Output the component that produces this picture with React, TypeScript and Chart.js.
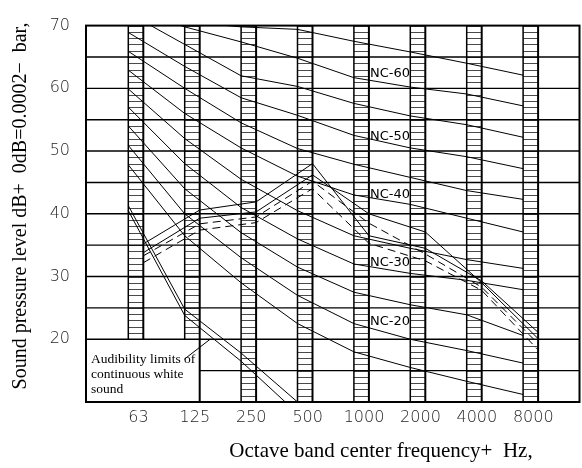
import React, { useEffect, useRef } from 'react';
import { Chart, registerables } from 'chart.js';

Chart.register(...registerables);

// ---------- data ----------
const frequencies = ['63', '125', '250', '500', '1000', '2000', '4000', '8000'];
const yTickValues = [20, 30, 40, 50, 60, 70];

const nc15 = [47.8, 36.5, 29.0, 22.5, 18.0, 15.5, 13.3, 11.2];
const nc20 = [50.9, 40.0, 33.0, 27.0, 22.5, 20.0, 18.2, 16.2];
const nc25 = [54.0, 44.0, 37.0, 31.5, 27.5, 25.5, 23.9, 20.6];
const nc30 = [57.0, 48.0, 41.0, 36.0, 32.0, 30.5, 29.4, 27.9];
const nc35 = [59.9, 52.0, 45.5, 40.5, 36.5, 34.5, 32.7, 31.3];
const nc40 = [62.9, 56.0, 50.5, 46.0, 43.0, 41.5, 39.3, 37.1];
const nc45 = [65.9, 60.0, 54.5, 50.4, 47.9, 45.8, 43.7, 42.3];
const nc50 = [68.9, 63.5, 58.5, 55.7, 52.5, 50.5, 49.1, 47.2];
const nc55 = [72.0, 67.0, 62.0, 60.3, 57.6, 55.6, 54.2, 52.2];
const nc60 = [72.5, 69.8, 67.4, 64.8, 61.7, 60.2, 59.1, 57.2];
const nc65 = [74.0, 70.6, 69.8, 69.4, 67.5, 65.8, 64.0, 62.1];

const ncLabels = ['NC-60', 'NC-50', 'NC-40', 'NC-30', 'NC-20'];
const ncLabelLevels = [62.3, 52.3, 43.0, 32.2, 22.8];

// audibility limits of continuous white sound (63..500 Hz)
const audibilityA = [41.3, 24.8, 17.8, 10.0];
const audibilityB = [40.5, 23.8, 16.5, 8.2];

// measured spectra
const spectrumSolid1 = [35.2, 40.6, 41.9, 48.0, 36.5, 34.5, 29.3, 21.1];
const spectrumSolid2 = [33.8, 39.3, 40.3, 46.2, 40.0, 37.1, 29.0, 20.1];
const spectrumDash1 = [32.2, 37.4, 38.6, 44.0, 35.3, 32.5, 27.8, 18.3];
const spectrumDash2 = [33.3, 38.4, 39.5, 45.2, 38.5, 33.6, 28.3, 19.3];

const boxText = ['Audibility limits of', 'continuous white', 'sound'];
const xTitle = 'Octave band center frequency+  Hz,';
const yTitle = 'Sound pressure level dB+  0dB=0.0002\u2212  bar,';

// ---------- layout constants ----------
const Y_MIN = 10;
const Y_MAX = 70;
const BOX_TOP = 20;
const X_MIN = -0.75;
const X_MAX = 8.0;
const BAND_W = 0.266;
const LABEL_SHIFT = 0.18;

const toPts = (arr: number[]) => arr.map((v, i) => ({ x: i, y: v }));

const backgroundPlugin = {
  id: 'ncBackground',
  beforeDatasetsDraw(chart: any) {
    const { ctx, chartArea: a, scales } = chart;
    const xs = scales.xnc;
    const y = scales.y;
    const line = (x1: number, y1: number, x2: number, y2: number) => {
      ctx.beginPath();
      ctx.moveTo(x1, y1);
      ctx.lineTo(x2, y2);
      ctx.stroke();
    };
    ctx.save();
    ctx.fillStyle = '#fff';
    ctx.fillRect(a.left, a.top, a.right - a.left, a.bottom - a.top);
    const boxRight = xs.getPixelForValue(1 + BAND_W);

    frequencies.forEach((_, i) => {
      const xl = xs.getPixelForValue(i);
      const xr = xs.getPixelForValue(i + BAND_W);
      const low = i < 2 ? BOX_TOP : Y_MIN;
      ctx.strokeStyle = '#4a4a4a';
      ctx.lineWidth = 1;
      for (let lv = low; lv <= Y_MAX; lv++) {
        const py = Math.round(y.getPixelForValue(lv)) + 0.5;
        line(xl, py, xr, py);
      }
      ctx.strokeStyle = '#000';
      ctx.lineWidth = 1.5;
      line(xl, a.top, xl, y.getPixelForValue(low));
      ctx.lineWidth = 2;
      line(xr, a.top, xr, y.getPixelForValue(i === 1 ? Y_MIN : low));
    });

    ctx.strokeStyle = '#000';
    ctx.lineWidth = 1.4;
    for (let lv = 15; lv < Y_MAX; lv += 5) {
      const py = y.getPixelForValue(lv);
      line(lv < BOX_TOP ? boxRight : a.left, py, a.right, py);
    }
    ctx.lineWidth = 2;
    ctx.strokeRect(a.left, a.top, a.right - a.left, a.bottom - a.top);
    ctx.restore();
  },
  afterDatasetsDraw(chart: any) {
    const { ctx, chartArea: a, scales } = chart;
    const xs = scales.xnc;
    const y = scales.y;
    ctx.save();
    ctx.fillStyle = '#000';
    ctx.font = '13px "DejaVu Sans"';
    ctx.textAlign = 'left';
    ctx.textBaseline = 'middle';
    const lx = xs.getPixelForValue(4 + BAND_W) + 1;
    ncLabels.forEach((t, k) => {
      ctx.fillText(t, lx, y.getPixelForValue(ncLabelLevels[k]));
    });

    ctx.font = '13.5px "Liberation Serif"';
    const y20 = y.getPixelForValue(BOX_TOP);
    boxText.forEach((t, k) => {
      ctx.fillText(t, a.left + 5, y20 + 20 + k * 15);
    });
    const w = ctx.measureText(boxText[0]).width;
    ctx.strokeStyle = '#000';
    ctx.lineWidth = 1;
    ctx.beginPath();
    ctx.moveTo(a.left + 5 + w - 11, y20 + 20);
    ctx.lineTo(xs.getPixelForValue(1.45), y20);
    ctx.stroke();
    ctx.restore();
  },
  afterDraw(chart: any) {
    const { ctx } = chart;
    ctx.save();
    ctx.fillStyle = '#000';
    ctx.textAlign = 'center';
    ctx.textBaseline = 'middle';
    ctx.font = '21px "Liberation Serif"';
    ctx.fillText(xTitle, 381, 451);
    ctx.font = '20px "Liberation Serif"';
    ctx.translate(21, 206);
    ctx.rotate(-Math.PI / 2);
    ctx.fillText(yTitle, 0, 0);
    ctx.restore();
  },
};

export default function App() {
  const ref = useRef<HTMLCanvasElement | null>(null);
  useEffect(() => {
    if (!ref.current) return;
    const ncSets = [nc15, nc20, nc25, nc30, nc35, nc40, nc45, nc50, nc55, nc60, nc65].map((d, k) => ({
      label: 'NC-' + (15 + 5 * k),
      data: toPts(d),
      xAxisID: 'xnc',
      yAxisID: 'y',
      borderColor: '#000',
      borderWidth: 1,
      pointRadius: 0,
      fill: false,
      tension: 0,
    }));
    const audSets = [audibilityA, audibilityB].map((d, k) => ({
      label: 'audibility' + k,
      data: toPts(d),
      xAxisID: 'xnc',
      yAxisID: 'y',
      borderColor: '#000',
      borderWidth: 1,
      pointRadius: 0,
      fill: false,
      tension: 0,
    }));
    const specSets = [spectrumSolid1, spectrumSolid2, spectrumDash1, spectrumDash2].map((d, k) => ({
      label: 'spectrum' + k,
      data: toPts(d),
      xAxisID: 'xsp',
      yAxisID: 'y',
      borderColor: '#000',
      borderWidth: 1,
      borderDash: k >= 2 ? [8, 5] : [],
      pointRadius: 0,
      fill: false,
      tension: 0,
    }));
    const chart = new Chart(ref.current, {
      type: 'line',
      data: { datasets: [...ncSets, ...audSets, ...specSets] as any },
      options: {
        animation: false,
        responsive: false,
        devicePixelRatio: 1,
        events: [],
        layout: { padding: { left: 0, right: 2.5, top: 13, bottom: 0 } },
        plugins: { legend: { display: false }, tooltip: { enabled: false }, title: { display: false } },
        scales: {
          x: {
            type: 'linear',
            position: 'bottom',
            min: X_MIN - LABEL_SHIFT,
            max: X_MAX - LABEL_SHIFT,
            grid: { display: false, drawTicks: false },
            border: { display: false },
            afterBuildTicks: (s: any) => {
              s.ticks = frequencies.map((_, i) => ({ value: i }));
            },
            afterFit: (s: any) => {
              s.height = 66;
            },
            ticks: {
              autoSkip: false,
              maxRotation: 0,
              padding: 6,
              color: '#1e1e1e',
              font: { family: '"DejaVu Sans"', size: 16, weight: 200 },
              callback: (v: any) => frequencies[Math.round(v)] ?? '',
            },
          },
          xnc: { type: 'linear', display: false, min: X_MIN, max: X_MAX },
          xsp: { type: 'linear', display: false, min: X_MIN - BAND_W, max: X_MAX - BAND_W },
          y: {
            type: 'linear',
            position: 'left',
            min: Y_MIN,
            max: Y_MAX,
            grid: { display: false, drawTicks: false },
            border: { display: false },
            afterBuildTicks: (s: any) => {
              s.ticks = yTickValues.map((v) => ({ value: v }));
            },
            afterFit: (s: any) => {
              s.width = 86;
            },
            ticks: {
              padding: 16,
              color: '#1e1e1e',
              font: { family: '"DejaVu Sans"', size: 16, weight: 200 },
            },
          },
        },
      },
      plugins: [backgroundPlugin],
    });
    return () => chart.destroy();
  }, []);
  return (
    <div style={{ position: 'fixed', left: 0, top: 0, width: 582, height: 468, background: '#fff' }}>
      <canvas ref={ref} width={582} height={468} />
    </div>
  );
}
